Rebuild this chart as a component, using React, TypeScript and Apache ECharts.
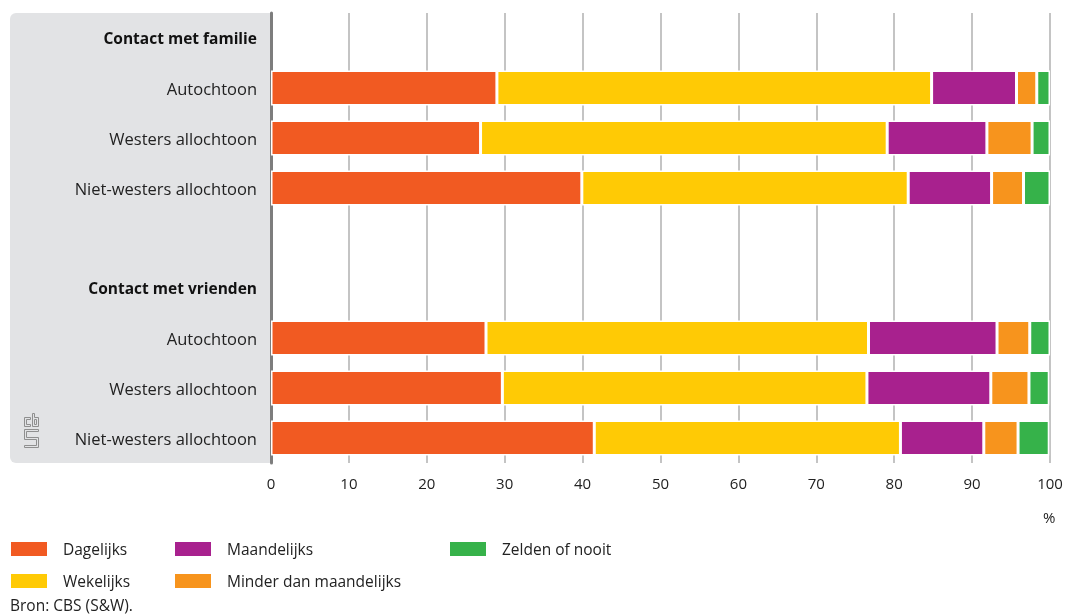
import React, { useEffect, useRef } from "react";
import * as echarts from "echarts";

const categories = [
  "Contact met familie",
  "Autochtoon",
  "Westers allochtoon",
  "Niet-westers allochtoon",
  "",
  "Contact met vrienden",
  "Autochtoon",
  "Westers allochtoon",
  "Niet-westers allochtoon",
];
const headerRows = [0, 5];

const seriesNames = ["Dagelijks", "Wekelijks", "Maandelijks", "Minder dan maandelijks", "Zelden of nooit"];
const seriesColors = ["#f15a22", "#ffca05", "#a8218e", "#f7941d", "#36b24a"];

const dagelijks = [null, 29.0, 26.9, 39.9, null, null, 27.6, 29.7, 41.5];
const wekelijks = [null, 55.8, 52.2, 41.9, null, null, 49.1, 46.8, 39.3];
const maandelijks = [null, 10.9, 12.8, 10.7, null, null, 16.5, 15.9, 10.7];
const minderDanMaandelijks = [null, 2.6, 5.8, 4.1, null, null, 4.2, 4.9, 4.4];
const zeldenOfNooit = [null, 1.7, 2.3, 3.4, null, null, 2.6, 2.6, 4.0];

const seriesValues = [dagelijks, wekelijks, maandelijks, minderDanMaandelijks, zeldenOfNooit];

const xTicks = { min: 0, max: 100, interval: 10 };
const unitLabel = "%";
const sourceText = "Bron: CBS (S&W).";

const FONT = "'Open Sans', 'Noto Sans', sans-serif";

// CBS logo outline polygons (local units, px)
const logoC = [[0, 4], [6, 4], [6, 6], [2, 6], [2, 11], [6, 11], [6, 13], [0, 13]];
const logoB = [[8, 0], [10, 0], [10, 4], [14, 4], [14, 13], [8, 13]];
const logoBHole = [[10, 6], [12, 6], [12, 11], [10, 11]];
const logoS = [[0, 16], [14, 16], [14, 18], [2, 18], [2, 24], [14, 24], [14, 34], [0, 34], [0, 32], [12, 32], [12, 26], [0, 26]];

export default function App() {
  const ref = useRef<HTMLDivElement>(null);
  useEffect(() => {
    if (!ref.current) return;
    const chart = echarts.init(ref.current, undefined, { renderer: "svg" });
    const legendStyle = {
      orient: "vertical" as const,
      top: 540,
      padding: 0,
      itemWidth: 38,
      itemHeight: 16,
      itemGap: 14,
      icon: "rect",
      textStyle: { fontFamily: FONT, fontSize: 15.5, lineHeight: 16, color: "#222", padding: [0, 0, 0, 10] },
      selectedMode: false,
    };
    const logoStyle = { fill: "none", stroke: "#8f8f8f", lineWidth: 1 };
    chart.setOption({
      animation: false,
      textStyle: { fontFamily: FONT },
      grid: { left: 271, right: 17, top: 13, height: 450 },
      legend: [
        { ...legendStyle, left: 9, data: seriesNames.slice(0, 2) },
        { ...legendStyle, left: 173, data: seriesNames.slice(2, 4) },
        { ...legendStyle, left: 448, data: seriesNames.slice(4, 5) },
      ],
      xAxis: {
        type: "value",
        min: xTicks.min,
        max: xTicks.max,
        interval: xTicks.interval,
        axisLine: { show: false },
        axisTick: { show: false },
        splitLine: { show: true, lineStyle: { color: "#c4c4c4", width: 2 } },
        axisLabel: { fontFamily: FONT, fontSize: 15, color: "#222", margin: 12 },
      },
      yAxis: {
        type: "category",
        inverse: true,
        data: categories,
        axisLine: { show: true, lineStyle: { color: "#7d7d7d", width: 3 } },
        axisTick: { show: false },
        splitLine: { show: false },
        axisLabel: {
          margin: 14,
          interval: 0,
          fontFamily: FONT,
          fontSize: 16.5,
          color: "#222",
          formatter: (v: string, i: number) => (headerRows.includes(i) ? `{b|${v}}` : v),
          rich: { b: { fontFamily: FONT, fontSize: 15.5, fontWeight: "bold", color: "#111" } },
        },
      },
      graphic: [
        {
          type: "rect",
          z: -10,
          shape: { x: 10, y: 13, width: 260, height: 450, r: [6, 0, 0, 6] },
          style: { fill: "#e2e3e5" },
          silent: true,
        },
        {
          type: "group",
          x: 24.5,
          y: 413.5,
          z: 10,
          silent: true,
          children: [logoC, logoB, logoBHole, logoS].map((pts) => ({
            type: "polygon",
            shape: { points: pts },
            style: logoStyle,
          })),
        },
        {
          type: "text",
          left: 1043,
          top: 509,
          style: { text: unitLabel, font: `15px ${FONT}`, fill: "#222" },
        },
        {
          type: "text",
          left: 10,
          top: 597,
          style: { text: sourceText, font: `15.5px ${FONT}`, fill: "#222" },
        },
      ],
      series: seriesNames.map((name, i) => ({
        name,
        type: "bar",
        stack: "total",
        barWidth: 35,
        data: seriesValues[i],
        itemStyle: { color: seriesColors[i], borderColor: "#ffffff", borderWidth: 1.5 },
        emphasis: { disabled: true },
      })),
    });
    return () => chart.dispose();
  }, []);
  return (
    <div
      ref={ref}
      style={{ position: "fixed", left: 0, top: 0, width: 1067, height: 615 }}
    />
  );
}
